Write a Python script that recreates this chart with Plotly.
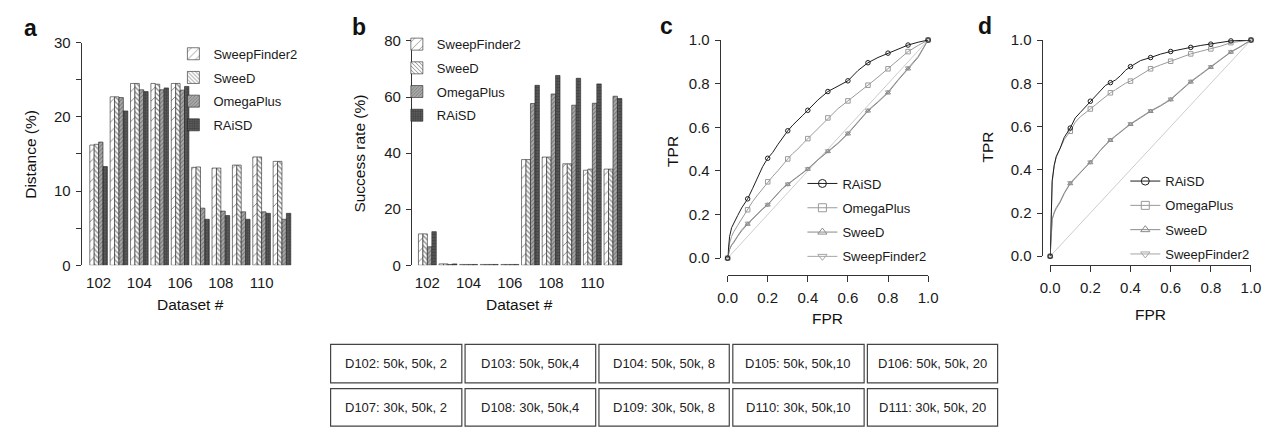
import plotly.graph_objects as go

W, H = 1279, 435

# ---------------- data ----------------
datasets = [102, 103, 104, 105, 106, 107, 108, 109, 110, 111]
dataset_ticks = [102, 104, 106, 108, 110]
methods = ["SweepFinder2", "SweeD", "OmegaPlus", "RAiSD"]

distance_sf2 = [16.2, 22.7, 24.5, 24.5, 24.5, 13.2, 13.1, 13.5, 14.6, 14.0]
distance_sweed = [16.3, 22.7, 24.5, 24.4, 24.5, 13.25, 13.1, 13.5, 14.6, 14.0]
distance_omega = [16.6, 22.6, 23.65, 23.65, 23.6, 7.7, 7.3, 7.2, 7.2, 6.2]
distance_raisd = [13.3, 20.8, 23.4, 23.9, 24.1, 6.2, 6.7, 6.2, 7.0, 7.0]

success_sf2 = [11.2, 0.5, 0.3, 0.3, 0.3, 37.7, 38.6, 36.2, 33.9, 34.3]
success_sweed = [11.2, 0.5, 0.3, 0.3, 0.3, 37.7, 38.6, 36.2, 34.3, 34.3]
success_omega = [6.6, 0.3, 0.3, 0.3, 0.3, 57.7, 61.1, 57.1, 57.8, 60.3]
success_raisd = [12.0, 0.5, 0.3, 0.3, 0.3, 64.2, 67.7, 66.7, 64.7, 59.5]

fpr = [0, 0.005, 0.01, 0.02, 0.03, 0.05, 0.07, 0.1, 0.125, 0.15, 0.175, 0.2,
       0.225, 0.25, 0.275, 0.3, 0.325, 0.35, 0.375, 0.4, 0.45, 0.5, 0.55, 0.6,
       0.65, 0.7, 0.75, 0.8, 0.85, 0.9, 0.95, 1.0]

tpr_c_raisd = [0, 0.06, 0.10, 0.14, 0.16, 0.195, 0.23, 0.272, 0.32, 0.37, 0.42, 0.458,
               0.485, 0.52, 0.555, 0.584, 0.61, 0.635, 0.655, 0.678, 0.725, 0.764, 0.79, 0.813,
               0.86, 0.896, 0.92, 0.94, 0.96, 0.977, 0.99, 1.0]
tpr_c_omega = [0, 0.04, 0.07, 0.10, 0.12, 0.15, 0.18, 0.222, 0.26, 0.29, 0.32, 0.35,
               0.375, 0.40, 0.43, 0.455, 0.48, 0.50, 0.525, 0.548, 0.595, 0.643, 0.685, 0.721,
               0.755, 0.793, 0.83, 0.868, 0.91, 0.947, 0.975, 1.0]
tpr_c_sweed = [0, 0.02, 0.04, 0.06, 0.07, 0.10, 0.125, 0.156, 0.18, 0.205, 0.225, 0.244,
               0.27, 0.295, 0.32, 0.338, 0.355, 0.37, 0.39, 0.408, 0.45, 0.489, 0.525, 0.57,
               0.62, 0.675, 0.715, 0.758, 0.815, 0.868, 0.92, 1.0]
tpr_c_sf2 = [0, 0.02, 0.04, 0.06, 0.075, 0.10, 0.13, 0.16, 0.183, 0.207, 0.228, 0.246,
             0.272, 0.297, 0.322, 0.34, 0.357, 0.373, 0.392, 0.41, 0.452, 0.492, 0.528, 0.573,
             0.623, 0.678, 0.718, 0.762, 0.818, 0.872, 0.925, 1.0]

tpr_d_raisd = [0, 0.25, 0.35, 0.42, 0.46, 0.50, 0.55, 0.593, 0.64, 0.665, 0.69, 0.717,
               0.745, 0.77, 0.79, 0.803, 0.815, 0.835, 0.86, 0.877, 0.905, 0.919, 0.935, 0.947,
               0.955, 0.966, 0.975, 0.981, 0.988, 0.996, 0.998, 1.0]
tpr_d_omega = [0, 0.24, 0.34, 0.42, 0.46, 0.50, 0.54, 0.578, 0.62, 0.645, 0.665, 0.681,
               0.70, 0.72, 0.74, 0.756, 0.77, 0.785, 0.80, 0.81, 0.84, 0.867, 0.885, 0.902,
               0.92, 0.936, 0.948, 0.959, 0.972, 0.988, 0.995, 1.0]
tpr_d_sweed = [0, 0.12, 0.17, 0.20, 0.22, 0.25, 0.29, 0.336, 0.36, 0.385, 0.41, 0.433,
               0.46, 0.49, 0.515, 0.536, 0.555, 0.575, 0.592, 0.61, 0.64, 0.67, 0.695, 0.724,
               0.765, 0.806, 0.84, 0.874, 0.91, 0.944, 0.97, 1.0]
tpr_d_sf2 = [0, 0.12, 0.17, 0.205, 0.225, 0.255, 0.293, 0.34, 0.363, 0.388, 0.413, 0.436,
             0.463, 0.492, 0.517, 0.539, 0.558, 0.578, 0.595, 0.613, 0.643, 0.673, 0.698, 0.727,
             0.768, 0.809, 0.843, 0.877, 0.912, 0.946, 0.972, 1.0]

table_row1 = ["D102: 50k, 50k, 2", "D103: 50k, 50k,4", "D104: 50k, 50k, 8",
              "D105: 50k, 50k,10", "D106: 50k, 50k, 20"]
table_row2 = ["D107: 30k, 50k, 2", "D108: 30k, 50k,4", "D109: 30k, 50k, 8",
              "D110: 30k, 50k,10", "D111: 30k, 50k, 20"]

# ---------------- styles ----------------
FONT = "Liberation Sans, Arial, Helvetica, sans-serif"
TXT = "#1a1a1a"
AX = "#333333"

def fx(px):
    return px / W

def fy(py):
    return 1 - py / H

bar_styles = {
    "SweepFinder2": dict(shape="/", bgcolor="white", fgcolor="#111111", size=7, solidity=0.14),
    "SweeD": dict(shape="\\", bgcolor="white", fgcolor="#111111", size=3.5, solidity=0.35),
    "OmegaPlus": dict(shape="/", bgcolor="#a8a8a8", fgcolor="#3a3a3a", size=3, solidity=0.3),
    "RAiSD": dict(shape="+", bgcolor="#5a5a5a", fgcolor="#222222", size=3, solidity=0.35),
}

line_styles = {
    "RAiSD": dict(color="#1e1e1e", symbol="circle-open"),
    "OmegaPlus": dict(color="#9a9a9a", symbol="square-open"),
    "SweeD": dict(color="#8a8a8a", symbol="triangle-up-open"),
    "SweepFinder2": dict(color="#a5a5a5", symbol="triangle-down-open"),
}

fig = go.Figure()

# ---------------- bar panels ----------------
dist_vals = {"SweepFinder2": distance_sf2, "SweeD": distance_sweed,
             "OmegaPlus": distance_omega, "RAiSD": distance_raisd}
succ_vals = {"SweepFinder2": success_sf2, "SweeD": success_sweed,
             "OmegaPlus": success_omega, "RAiSD": success_raisd}

for panel, vals, xa, ya, leg in [("a", dist_vals, "x", "y", "legend"),
                                 ("b", succ_vals, "x2", "y2", "legend2")]:
    for m in methods:
        st = bar_styles[m]
        fig.add_trace(go.Bar(
            x=datasets, y=vals[m], name=m, xaxis=xa, yaxis=ya,
            legend=leg, legendgroup=panel + m,
            marker=dict(color=st["bgcolor"], line=dict(color="#222222", width=0.6),
                        pattern=dict(shape=st["shape"], bgcolor=st["bgcolor"],
                                     fgcolor=st["fgcolor"], size=st["size"],
                                     solidity=st["solidity"])),
        ))

# ---------------- ROC panels ----------------
roc_c = {"RAiSD": tpr_c_raisd, "OmegaPlus": tpr_c_omega, "SweeD": tpr_c_sweed,
         "SweepFinder2": tpr_c_sf2}
roc_d = {"RAiSD": tpr_d_raisd, "OmegaPlus": tpr_d_omega, "SweeD": tpr_d_sweed,
         "SweepFinder2": tpr_d_sf2}
mark_idx = [i for i, f in enumerate(fpr) if abs(f * 10 - round(f * 10)) < 1e-9]
roc_order = ["RAiSD", "OmegaPlus", "SweeD", "SweepFinder2"]

for panel, roc, xa, ya, leg in [("c", roc_c, "x3", "y3", "legend3"),
                                ("d", roc_d, "x4", "y4", "legend4")]:
    fig.add_trace(go.Scatter(x=[0, 1], y=[0, 1], mode="lines", xaxis=xa, yaxis=ya,
                             line=dict(color="#cccccc", width=1), showlegend=False,
                             hoverinfo="skip"))
    for m in reversed(roc_order):
        st = line_styles[m]
        tpr = roc[m]
        fig.add_trace(go.Scatter(x=fpr, y=tpr, mode="lines", xaxis=xa, yaxis=ya,
                                 line=dict(color=st["color"], width=1),
                                 showlegend=False, cliponaxis=False))
        fig.add_trace(go.Scatter(x=[fpr[i] for i in mark_idx], y=[tpr[i] for i in mark_idx],
                                 mode="markers", xaxis=xa, yaxis=ya, showlegend=False,
                                 cliponaxis=False,
                                 marker=dict(symbol=st["symbol"], size=4.5, color=st["color"],
                                             line=dict(width=1, color=st["color"]))))
    for m in roc_order:
        st = line_styles[m]
        fig.add_trace(go.Scatter(x=[None], y=[None], mode="lines+markers", name=m,
                                 xaxis=xa, yaxis=ya, legend=leg, legendgroup=panel + m,
                                 line=dict(color=st["color"], width=1),
                                 marker=dict(symbol=st["symbol"], size=8, color=st["color"],
                                             line=dict(width=1, color=st["color"]))))

# ---------------- axes ----------------
tickfont = dict(family=FONT, size=15, color=TXT)

def bar_xaxis(d0, d1, c102, step):
    r0 = 102 + (d0 - c102) / step
    r1 = 102 + (d1 - c102) / step
    return dict(domain=[fx(d0), fx(d1)], range=[r0, r1], tickvals=dataset_ticks,
                showline=False, ticks="", showgrid=False, zeroline=False,
                tickfont=tickfont, ticklabelstandoff=7, fixedrange=True)

def y_axis(top, bot, xpos, rng, tv, minor=None, fmt=None):
    d = dict(domain=[fy(bot), fy(top)], range=rng, anchor="free", position=fx(xpos),
             tickvals=tv, showline=True, linecolor=AX, linewidth=1, ticks="outside",
             ticklen=5, tickcolor=AX, tickwidth=1, showgrid=False, zeroline=False,
             tickfont=tickfont, ticklabelstandoff=2)
    if minor:
        d["minor"] = dict(tickvals=minor, ticks="outside", ticklen=5, tickcolor=AX, tickwidth=1)
    if fmt:
        d["tickformat"] = fmt
    return d

def roc_xaxis(d0, d1, ypos):
    return dict(domain=[fx(d0), fx(d1)], range=[0, 1], anchor="free", position=fy(ypos),
                tickvals=[0, 0.2, 0.4, 0.6, 0.8, 1.0], tickformat=".1f",
                showline=True, linecolor=AX, linewidth=1, ticks="outside", ticklen=6,
                tickcolor=AX, tickwidth=1, showgrid=False, zeroline=False,
                tickfont=tickfont, ticklabelstandoff=3)

fig.update_layout(
    width=W, height=H, autosize=False,
    margin=dict(l=0, r=0, t=0, b=0),
    paper_bgcolor="white", plot_bgcolor="white",
    font=dict(family=FONT, color=TXT),
    barmode="group", bargap=0.135, bargroupgap=0,
    xaxis=bar_xaxis(72, 292, 90, 20.7),
    yaxis=y_axis(35, 266.7, 71.7, [0, 30], [0, 10, 20, 30], minor=[5, 15, 25]),
    xaxis2=bar_xaxis(408, 630, 424, 20.95),
    yaxis2=y_axis(33.3, 266.7, 407.3, [0, 80], [0, 20, 40, 60, 80]),
    xaxis3=roc_xaxis(729, 932.7, 277),
    yaxis3=y_axis(32.3, 259.3, 721, [0, 1], [0, 0.2, 0.4, 0.6, 0.8, 1.0], fmt=".1f"),
    xaxis4=roc_xaxis(1056.7, 1260.7, 266),
    yaxis4=y_axis(32.3, 257.3, 1048, [0, 1], [0, 0.2, 0.4, 0.6, 0.8, 1.0], fmt=".1f"),
)

legfont = dict(family=FONT, size=13, color=TXT)
def legend_at(px, py, gap):
    return dict(x=fx(px), y=fy(py), xanchor="left", yanchor="top", bgcolor="rgba(0,0,0,0)",
                font=legfont, tracegroupgap=gap, traceorder="grouped", borderwidth=0,
                itemclick=False, itemdoubleclick=False)

fig.update_layout(
    legend=legend_at(166, 31, 3.8),
    legend2=legend_at(393, 21, 3.8),
    legend3=legend_at(805, 166, 4.4),
    legend4=legend_at(1133, 163.5, 4.4),
)

# ---------------- text annotations ----------------
ann = []
def add_text(txt, px, py, size=15.5, angle=0, bold=False, xanchor="center"):
    ann.append(dict(text=("<b>%s</b>" % txt) if bold else txt, x=fx(px), y=fy(py),
                    xref="paper", yref="paper", showarrow=False, textangle=angle,
                    xanchor=xanchor, yanchor="middle",
                    font=dict(family=FONT, size=size, color="#111111")))

add_text("a", 20.7, 19.8, size=23, bold=True)
add_text("b", 355, 18.5, size=23, bold=True)
add_text("c", 666.7, 17.5, size=23, bold=True)
add_text("d", 990.5, 17.5, size=23, bold=True)
add_text("Distance (%)", 20, 151, angle=-90)
add_text("Success rate (%)", 355, 150, angle=-90)
add_text("TPR", 673.5, 147.7, angle=-90)
add_text("TPR", 993, 143.7, angle=-90)
add_text("Dataset #", 183, 307)
add_text("Dataset #", 518, 307)
add_text("FPR", 830.8, 322)
add_text("FPR", 1158.7, 318)

# ---------------- table ----------------
col_x = [(325.7, 459), (462.3, 595), (598.3, 730.7), (734.3, 867.7), (871, 1003.3)]
row_y = [(349, 389), (395, 434)]
shapes = []
for r, labels in enumerate([table_row1, table_row2]):
    y0, y1 = row_y[r]
    for c, lab in enumerate(labels):
        x0, x1 = col_x[c]
        shapes.append(dict(type="rect", xref="paper", yref="paper",
                           x0=fx(x0), x1=fx(x1), y0=fy(y1), y1=fy(y0),
                           line=dict(color="#444444", width=1.2), fillcolor="rgba(0,0,0,0)"))
        ann.append(dict(text=lab, x=fx((x0 + x1) / 2), y=fy((y0 + y1) / 2),
                        xref="paper", yref="paper", showarrow=False,
                        xanchor="center", yanchor="middle",
                        font=dict(family=FONT, size=13, color="#222222")))

fig.update_layout(annotations=ann, shapes=shapes)

fig.write_html(
    "out.html",
    config={"displayModeBar": False, "staticPlot": True},
    post_script="document.body.style.margin='0';document.body.style.overflow='hidden';",
)
